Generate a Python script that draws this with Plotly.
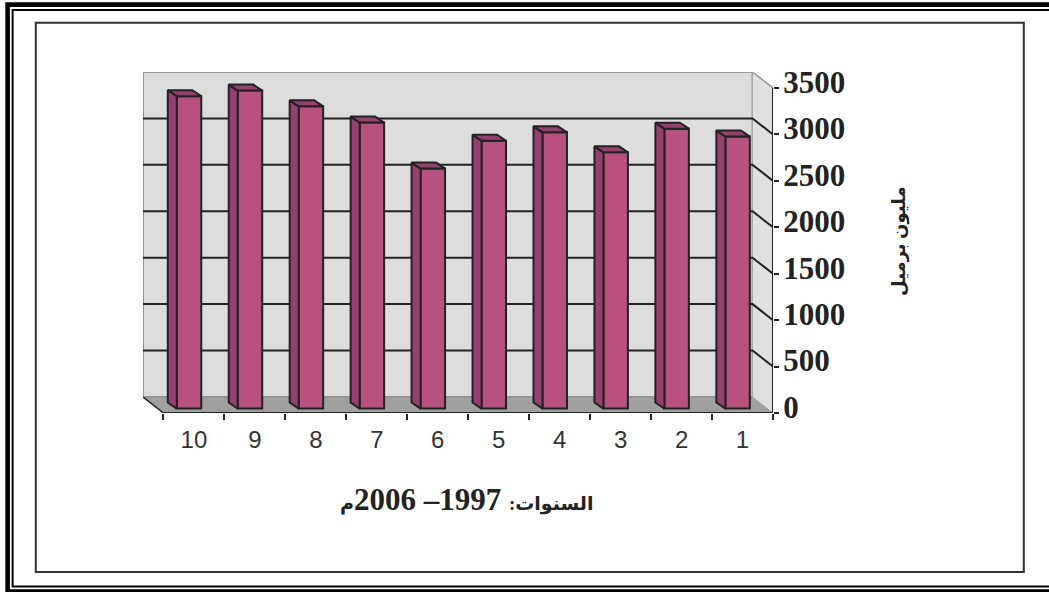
import plotly.graph_objects as go

# ---- data ----
years = [10, 9, 8, 7, 6, 5, 4, 3, 2, 1]
values = [3365, 3425, 3255, 3080, 2585, 2885, 2975, 2760, 3015, 2930]
y_ticks = [0, 500, 1000, 1500, 2000, 2500, 3000, 3500]
x_title_word = "السنوات:"
x_title_years = " 1997– 2006"
x_title_end = "م"
y_title = "مليون برميل"

# ---- layout constants (pixels of the page) ----
W, H = 1049, 592
L_FRONT, R_FRONT = 163.0, 773.0
T_FRONT, B_FRONT = 88.3, 412.7
DEPTH_X, DEPTH_Y = 20.5, 16.0
PX_X = (R_FRONT - L_FRONT) / 10          # pixels per category
PX_Y = (B_FRONT - T_FRONT) / 3500        # pixels per value
L_PLOT = L_FRONT - DEPTH_X
T_PLOT = T_FRONT - DEPTH_Y


def ux(px):  # horizontal px shift towards the left -> x units (axis is reversed)
    return px / PX_X


def uy(px):  # upward px shift -> value units
    return px / PX_Y


X_LEFT = 10.5 + ux(L_FRONT - L_PLOT)
Y_TOP = 3500 + uy(T_FRONT - T_PLOT)
WALL_X, WALL_Y = ux(DEPTH_X), uy(DEPTH_Y)

EDGE = "#222222"
FRONT = "#B85080"
SHADE = "#96406F"

# bar placement inside the floor
BAR_W = 24.5 / PX_X
BAR_OFF = 17.2 / PX_X      # left edge of the front face from category centre
BASE = uy(4.4)
DX, DY = ux(9), uy(6)

fig = go.Figure()

fig.add_trace(go.Bar(
    x=years, y=values, base=[BASE] * len(values),
    width=BAR_W, offset=BAR_OFF - BAR_W,
    marker=dict(color=FRONT, line=dict(color=EDGE, width=2)),
    showlegend=False, hoverinfo="x+y",
))

side_x, side_y, top_x, top_y = [], [], [], []
for yr, v in zip(years, values):
    left = yr + BAR_OFF
    right = left - BAR_W
    low = BASE
    high = BASE + v
    side_x += [left, left + DX, left + DX, left, left, None]
    side_y += [high, high + DY, low + DY, low, high, None]
    top_x += [left, left + DX, right + DX, right, left, None]
    top_y += [high, high + DY, high + DY, high, high, None]

for xs, ys in ((side_x, side_y), (top_x, top_y)):
    fig.add_trace(go.Scatter(
        x=xs, y=ys, mode="lines", fill="toself", fillcolor=SHADE,
        line=dict(color=EDGE, width=2), showlegend=False, hoverinfo="skip",
    ))

# drawn axis lines: the front edges of the 3-D box
fig.add_trace(go.Scatter(
    x=[10.5, 0.5, 0.5], y=[0, 0, 3500], mode="lines",
    line=dict(color=EDGE, width=2), cliponaxis=False,
    showlegend=False, hoverinfo="skip",
))

shapes = []


def poly(pts, fill, line=None, width=0):
    path = "M " + " L ".join(f"{a},{b}" for a, b in pts) + " Z"
    shapes.append(dict(type="path", path=path, xref="x", yref="y", layer="below",
                       fillcolor=fill, line=dict(color=line or fill, width=width)))


# back wall, floor, right wall
poly([(10.5 + WALL_X, WALL_Y), (0.5 + WALL_X, WALL_Y),
      (0.5 + WALL_X, 3500 + WALL_Y), (10.5 + WALL_X, 3500 + WALL_Y)], "#DDDDDD", "#999999", 2)
poly([(10.5 + WALL_X, WALL_Y), (0.5 + WALL_X, WALL_Y), (0.5, 0), (10.5, 0)], "#A0A0A0", "#8A8A8A", 1)
poly([(0.5 + WALL_X, WALL_Y), (0.5, 0), (0.5, 3500), (0.5 + WALL_X, 3500 + WALL_Y)], "#E0E0E0", "#A8A8A8", 1)

# gridlines on back wall and their diagonal on the side wall
for t in y_ticks[1:-1]:
    shapes.append(dict(type="path", xref="x", yref="y", layer="below",
                       path=f"M {10.5 + WALL_X},{t + WALL_Y} L {0.5 + WALL_X},{t + WALL_Y} L 0.5,{t}",
                       line=dict(color=EDGE, width=2)))
# floor front-left slant
shapes.append(dict(type="line", xref="x", yref="y", layer="below",
                   x0=10.5 + WALL_X, y0=WALL_Y, x1=10.5, y1=0,
                   line=dict(color=EDGE, width=1.5)))
shapes.append(dict(type="line", xref="x", yref="y", layer="below",
                   x0=0.5 + WALL_X, y0=3500 + WALL_Y, x1=0.5, y1=3500,
                   line=dict(color="#999999", width=1.5)))

PW = R_FRONT - L_PLOT
PH = B_FRONT - T_PLOT


def px(x):
    return (x - L_PLOT) / PW


def py(y):
    return (B_FRONT - y) / PH


def frame(x0, y0, x1, y1, width, color):
    shapes.append(dict(type="rect", xref="paper", yref="paper", layer="below",
                       x0=px(x0), x1=px(x1), y0=py(y0), y1=py(y1),
                       line=dict(color=color, width=width), fillcolor="rgba(0,0,0,0)"))


frame(7, 5, 1060, 591, 4.6, "#000000")
frame(12, 10.3, 1060, 586, 2, "#000000")
frame(35.2, 23.2, 1024, 571.5, 2, "#333333")

TXT = "#222222"
small = '<span style="font-size:19px">%s</span>'
annotations = [
    dict(text=small % x_title_word + x_title_years + small % x_title_end,
         xref="paper", yref="paper", x=px(467), y=py(499),
         showarrow=False, xanchor="center", yanchor="middle",
         font=dict(family="Liberation Serif, DejaVu Sans", size=31, color=TXT, weight=700)),
    dict(text=y_title, xref="paper", yref="paper", x=px(900), y=py(241),
         showarrow=False, xanchor="center", yanchor="middle", textangle=-90,
         font=dict(family="Liberation Serif, DejaVu Sans", size=18, color=TXT, weight=700)),
]

fig.update_layout(
    width=W, height=H, autosize=False,
    margin=dict(l=L_PLOT, r=W - R_FRONT, t=T_PLOT, b=H - B_FRONT, pad=0),
    paper_bgcolor="white", plot_bgcolor="rgba(0,0,0,0)",
    shapes=shapes, annotations=annotations, showlegend=False,
    xaxis=dict(
        type="linear", range=[X_LEFT, 0.5], showgrid=False, zeroline=False, showline=False,
        tickmode="array", tickvals=years, ticktext=[str(v) for v in years],
        ticks="", ticklabelstandoff=10,
        tickfont=dict(family="Liberation Sans", size=24, color="#333333"),
        minor=dict(tickmode="array", tickvals=[k + 0.5 for k in range(0, 11)],
                   ticks="outside", ticklen=6, tickwidth=2, tickcolor=EDGE, showgrid=False),
    ),
    yaxis=dict(
        type="linear", range=[0, Y_TOP], side="right", showgrid=False, zeroline=False,
        showline=False, tickmode="array", tickvals=y_ticks,
        ticks="outside", ticklen=5, tickwidth=2, tickcolor=EDGE,
        ticklabelshift=-6, ticklabelstandoff=-2,
        tickfont=dict(family="Liberation Serif", size=31, color=TXT, weight=700),
    ),
)

fig.write_html("out.html", config=dict(displayModeBar=False),
               post_script="document.body.style.margin='0';document.documentElement.style.overflow='hidden';")
